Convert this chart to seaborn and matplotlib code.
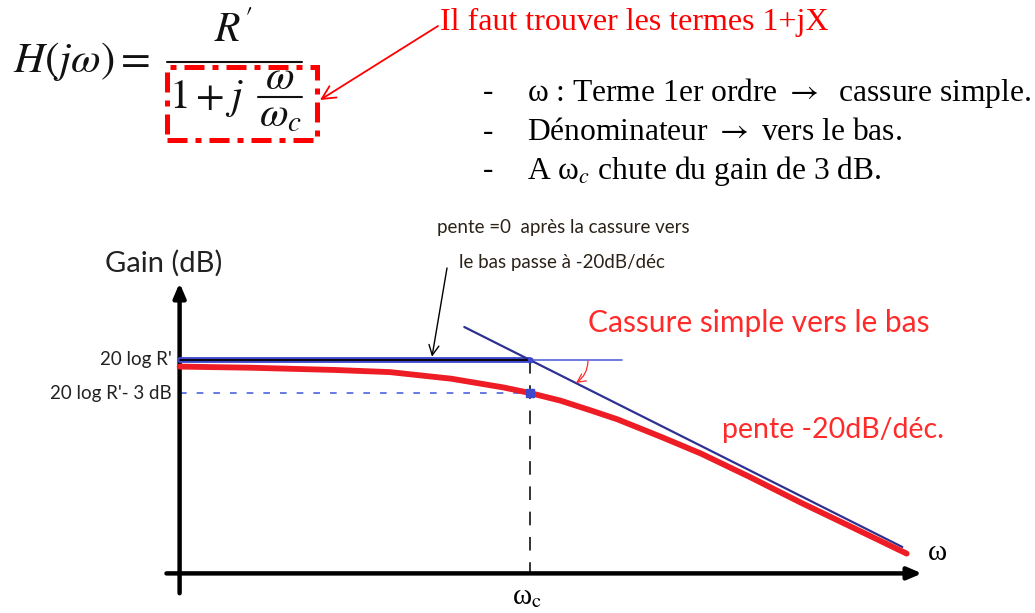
import numpy as np
import pandas as pd
import matplotlib
matplotlib.use("Agg")
import matplotlib.pyplot as plt
from matplotlib.patches import Rectangle
import seaborn as sns

# x = log10(w/wc) in decades, y = gain relative to 20 log R' in dB
red_x = [-0.80, -0.64, -0.45, -0.32, -0.25, -0.18, -0.12, -0.06, 0.0, 0.07, 0.14, 0.20, 0.30, 0.39, 0.50, 0.62, 0.73, 0.86]
red_y = [-0.6, -0.7, -0.9, -1.1, -1.4, -1.7, -2.1, -2.5, -3.0, -3.7, -4.6, -5.4, -7.0, -8.5, -10.6, -13.0, -15.1, -17.6]

asym_x = [-0.15, 0.85]
asym_y = [3.0, -17.0]

flat_x = [-0.80, 0.0]
flat_y = [0.0, 0.0]
ext_x = [0.0, 0.21]
ext_y = [0.0, 0.0]
minus3_x = [-0.80, 0.0]
minus3_y = [-3.0, -3.0]

axis_x0 = -0.80      # position of the gain axis
axis_y0 = -19.4      # position of the omega axis
yaxis_span = [-21.2, 7.0]
xaxis_span = [-0.83, 0.895]

level_labels = ["20 log R'", "20 log R'- 3 dB"]
level_values = [0.0, -3.0]

bullets = ["ω : Terme 1er ordre $\\rightarrow$  cassure simple.",
           "Dénominateur $\\rightarrow$ vers le bas.",
           "A ω$_{c}$ chute du gain de 3 dB."]

W, H = 1035, 613

def fp(x, y):
    return x / W, 1 - y / H

sns.set_theme(style="white")
plt.rcParams["font.family"] = ["Lato", "DejaVu Sans"]
plt.rcParams["mathtext.fontset"] = "stix"

fig = plt.figure(figsize=(W / 100, H / 100), dpi=100)
ax = fig.add_axes([0, 0, 1, 1])
ax.set_xlim(-530 / 438, 505 / 438)
ax.set_ylim(-253 / 11, 360 / 11)
ax.axis("off")

red = "#ee1c24"
navy = "#2e3192"
blue = "#3f48cc"

# axes with arrows
ax.annotate("", xy=(axis_x0, yaxis_span[1]), xytext=(axis_x0, yaxis_span[0]),
            arrowprops=dict(arrowstyle="-|>,head_length=0.7,head_width=0.3", lw=3.2, color="black", shrinkA=0, shrinkB=0))
ax.annotate("", xy=(xaxis_span[1], axis_y0), xytext=(xaxis_span[0], axis_y0),
            arrowprops=dict(arrowstyle="-|>,head_length=0.7,head_width=0.3", lw=3.2, color="black", shrinkA=0, shrinkB=0))

# vertical dashed at wc
ax.plot([0, 0], [0, axis_y0], color="#333333", lw=1.4, ls=(0, (7, 6)), zorder=1)

# flat asymptote
sns.lineplot(x=flat_x, y=flat_y, ax=ax, color=blue, lw=4.2, estimator=None, zorder=3)
sns.lineplot(x=flat_x, y=flat_y, ax=ax, color="black", lw=1.3, estimator=None, zorder=4)
sns.lineplot(x=ext_x, y=ext_y, ax=ax, color="#5565d8", lw=1.2, estimator=None, zorder=3)
sns.lineplot(x=minus3_x, y=minus3_y, ax=ax, color="#4a63e0", lw=1.2, ls=(0, (4, 6)), estimator=None, zorder=2)

# -20 dB/dec asymptote
sns.lineplot(x=asym_x, y=asym_y, ax=ax, color=navy, lw=1.6, estimator=None, zorder=3)

# real curve
curve = pd.DataFrame({"x": red_x, "y": red_y})
sns.lineplot(data=curve, x="x", y="y", ax=ax, color=red, lw=4.2, estimator=None, sort=False, zorder=5)
ax.plot([0], [-3.0], marker="s", ms=6, color=blue, zorder=6)
ax.plot([0], [0.0], marker="s", ms=3, color=blue, zorder=6)

# level labels
for lab, v in zip(level_labels, level_values):
    ax.text(axis_x0 - 0.018, v, lab, ha="right", va="center", fontsize=13.5, color="#222222")

fig.text(*fp(164, 263), "Gain (dB)", ha="center", va="center", fontsize=21, color="#222222")

fig.text(*fp(437, 228), "pente =0  après la cassure vers", ha="left", va="center", fontsize=13.5, color="#2b2218")
fig.text(*fp(459, 262), "le bas passe à -20dB/déc", ha="left", va="center", fontsize=13.5, color="#2b2218")
ax.annotate("", xy=(-(530 - 432) / 438, 0.3), xytext=(-(530 - 447) / 438, (360 - 268) / 11),
            arrowprops=dict(arrowstyle="->,head_length=0.6,head_width=0.3", lw=1.0, color="black", shrinkA=0, shrinkB=0))

fig.text(*fp(588, 323), "Cassure simple vers le bas", ha="left", va="center", fontsize=21.5, color="#ff2a2a")
fig.text(*fp(722, 430), "pente -20dB/déc.", ha="left", va="center", fontsize=20.5, color="#ff2a2a")
ax.annotate("", xy=((576 - 530) / 438, -(383 - 360) / 11), xytext=((588 - 530) / 438, -(361 - 360) / 11),
            arrowprops=dict(arrowstyle="->,head_length=0.5,head_width=0.25", lw=0.9, color="#ff2a2a",
                            connectionstyle="arc3,rad=-0.25", shrinkA=0, shrinkB=0))

serif = ["Liberation Serif", "DejaVu Serif"]
fig.text(*fp(928, 553), "ω", ha="left", va="center", fontsize=21, family=serif, color="black")
fig.text(*fp(527, 597), "ω$_{\\mathrm{c}}$", ha="center", va="center", fontsize=21, family=serif, color="black")

# formula, built piece by piece
fsz = 30
fcol = "#111111"
fig.text(*fp(13, 72), r"$H(j\omega) =$", ha="left", va="baseline", fontsize=31, color=fcol)
fig.text(*fp(233, 42), r"$R^{\prime}$", ha="center", va="baseline", fontsize=fsz, color=fcol)
fig.add_artist(plt.Line2D([167 / W, 302 / W], [1 - 62 / H] * 2, transform=fig.transFigure, color=fcol, lw=1.5))
fig.text(*fp(169, 108), r"$1 + j$", ha="left", va="baseline", fontsize=fsz, color=fcol)
fig.text(*fp(280, 89), r"$\omega$", ha="center", va="baseline", fontsize=fsz, color=fcol)
fig.add_artist(plt.Line2D([258 / W, 302 / W], [1 - 97 / H] * 2, transform=fig.transFigure, color=fcol, lw=1.5))
fig.text(*fp(280, 126), r"$\omega_c$", ha="center", va="baseline", fontsize=fsz, color=fcol)

fig.add_artist(Rectangle(fp(167, 140), 150 / W, 73 / H, transform=fig.transFigure, fill=False,
                         edgecolor="#ff0000", lw=3.6, ls=(0, (4, 1.6, 1.2, 1.6))))
fig.text(*fp(440, 22), "Il faut trouver les termes 1+jX", ha="left", va="center", fontsize=23,
         family=serif, color="#ff0000")
ax.annotate("", xy=fp(320, 100), xycoords="figure fraction", xytext=fp(438, 26), textcoords="figure fraction",
            arrowprops=dict(arrowstyle="->,head_length=0.8,head_width=0.4", lw=1.3, color="#ff0000", shrinkA=0, shrinkB=0))

for i, line in enumerate(bullets):
    y = 93 + i * 39
    fig.text(*fp(483, y), "-", ha="left", va="center", fontsize=22.7, family=serif, color="black")
    fig.text(*fp(527, y), line, ha="left", va="center", fontsize=22.7, family=serif, color="black")

fig.savefig("out.png", dpi=100)
